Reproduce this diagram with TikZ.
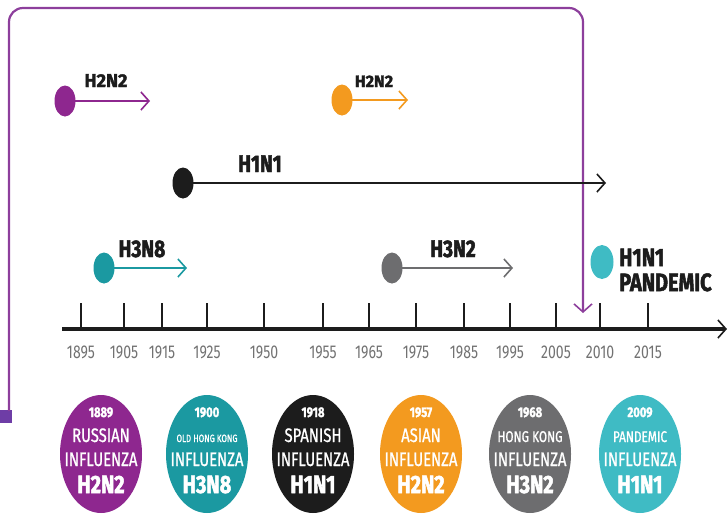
\documentclass[tikz,border=0pt]{standalone}
\usepackage{fontspec}
\setmainfont{Fira Sans}
\newfontfamily\cnd[FakeStretch=0.76]{Fira Sans}
\newfontfamily\cndm[FakeStretch=0.76,FakeBold=0.9]{Fira Sans}
\newfontfamily\heavy[FakeStretch=0.8,FakeBold=2]{Fira Sans}
\newfontfamily\heavyw[FakeStretch=0.98,FakeBold=2]{Fira Sans}
\usetikzlibrary{arrows.meta,shapes.geometric}
\definecolor{cPurple}{HTML}{8E278F}
\definecolor{cFrame}{HTML}{8D3F9C}
\definecolor{cStub}{HTML}{6E3DA6}
\definecolor{cTeal}{HTML}{1B99A1}
\definecolor{cBlack}{HTML}{1C1C1C}
\definecolor{cOrange}{HTML}{F39A1F}
\definecolor{cGrey}{HTML}{6D6D6F}
\definecolor{cLight}{HTML}{3FBBC4}
\definecolor{cYear}{HTML}{727272}
\begin{document}
\begin{tikzpicture}[x=1pt,y=-1pt,
  dotn/.style={ellipse, inner sep=0pt, minimum width=21pt, minimum height=31pt},
  flu/.style={line width=2.8pt, -{Straight Barb[length=8pt,width=18pt,line width=1.6pt]}},
  lab/.style={font=\heavy\bfseries\fontsize{24}{24}\selectfont, text=cBlack, anchor=base, inner sep=0pt},
  yearlab/.style={font=\cnd\fontsize{18.5}{18.5}\selectfont, text=cYear, anchor=base},
  tickl/.style={line width=1.8pt, cBlack},
  big/.style={ellipse, inner sep=0pt, minimum width=82pt, minimum height=118pt},
  ctA/.style={font=\heavy\bfseries\fontsize{14}{14}\selectfont, text=white, anchor=base},
  ctB/.style={font=\cndm\fontsize{19.5}{19.5}\selectfont, text=white, anchor=base},
  ctS/.style={font=\cndm\fontsize{10.5}{10.5}\selectfont, text=white, anchor=base},
  ctM/.style={font=\cndm\fontsize{15.5}{15.5}\selectfont, text=white, anchor=base},
  ctD/.style={font=\heavy\bfseries\fontsize{25}{25}\selectfont, text=white, anchor=base},
]
\useasboundingbox (0,0) rectangle (727,514);

% purple frame
\node[fill=cStub, inner sep=0pt, minimum width=12pt, minimum height=13pt] (stub) at (6,416.5) {};
\coordinate (fs) at (9,411);
\coordinate (ftl) at (9,8);
\coordinate (ftr) at (583,8);
\coordinate (fe) at (583,313);
\draw[cFrame, line width=2.2pt, rounded corners=14pt, -{Straight Barb[length=8pt,width=18pt,line width=1.6pt]}]
  (fs) -- (ftl) -- (ftr) -- (fe);

% strains
\node[dotn, fill=cPurple] (d1) at (65,101) {};
\coordinate (e1) at (150,101);
\draw[flu, cPurple] (d1.center) -- (e1);
\node[lab, font=\heavyw\bfseries\fontsize{18.5}{18.5}\selectfont] (l1) at (106,87) {H2N2};

\node[dotn, fill=cOrange] (d2) at (342,100) {};
\coordinate (e2) at (408,100);
\draw[flu, cOrange] (d2.center) -- (e2);
\node[lab, font=\heavyw\bfseries\fontsize{16.5}{16.5}\selectfont] (l2) at (374,87) {H2N2};

\node[dotn, fill=cBlack] (d3) at (183,183) {};
\coordinate (e3) at (606,183);
\draw[flu, cBlack] (d3.center) -- (e3);
\node[lab] (l3) at (260,172) {H1N1};

\node[dotn, fill=cTeal] (d4) at (104,268) {};
\coordinate (e4) at (187,268);
\draw[flu, cTeal] (d4.center) -- (e4);
\node[lab] (l4) at (142,257) {H3N8};

\node[dotn, fill=cGrey] (d5) at (392,268) {};
\coordinate (e5) at (513,268);
\draw[flu, cGrey] (d5.center) -- (e5);
\node[lab] (l5) at (453,257) {H3N2};

\node[dotn, fill=cLight, minimum width=23pt, minimum height=34pt] (d6) at (602,262) {};
\node[lab, anchor=base west, font=\heavy\bfseries\fontsize{25}{25}\selectfont] (l6a) at (619,266) {H1N1};
\node[lab, anchor=base west, font=\heavy\bfseries\fontsize{25}{25}\selectfont] (l6b) at (619,291) {PANDEMIC};

% axis
\coordinate (ax0) at (62,329);
\coordinate (ax1) at (727,329);
\draw[cBlack, line width=3.5pt, -{Straight Barb[length=8pt,width=18pt,line width=1.6pt]}] (ax0) -- (ax1);
\foreach \x/\yr [count=\i] in {81/1895,124/1905,162/1915,207/1925,264/1950,323/1955,369/1965,416/1975,464/1985,510/1995,556/2005,600/2010,648/2015}{
  \draw[tickl] (\x,303) -- (\x,329);
  \node[yearlab] (yr\i) at (\x,358) {\yr};
}

% bottom circles
\foreach \x/\c/\a/\b/\bs/\d [count=\i] in {
  101/cPurple/1889/RUSSIAN/ctB/H2N2,
  207/cTeal/1900/OLD HONG KONG/ctS/H3N8,
  313/cBlack/1918/SPANISH/ctB/H1N1,
  421/cOrange/1957/ASIAN/ctB/H2N2,
  530/cGrey/1968/HONG KONG/ctM/H3N2,
  640/cLight/2009/PANDEMIC/ctM/H1N1}{
  \node[big, fill=\c] (c\i) at (\x,454) {};
  \node[ctA] (ca\i) at (\x,417) {\a};
  \node[\bs] (cb\i) at (\x,442) {\b};
  \node[ctB] (cc\i) at (\x,466) {INFLUENZA};
  \node[ctD] (cd\i) at (\x,493) {\d};
}
\end{tikzpicture}
\end{document}
